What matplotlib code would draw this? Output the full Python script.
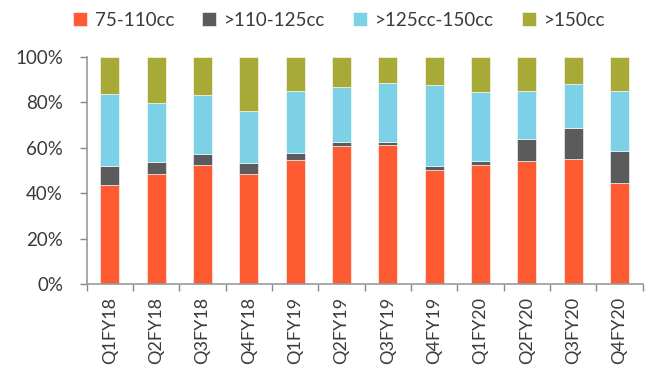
import matplotlib
matplotlib.use("Agg")
import matplotlib.pyplot as plt
from matplotlib.ticker import FuncFormatter
import numpy as np

categories = ["Q1FY18", "Q2FY18", "Q3FY18", "Q4FY18", "Q1FY19", "Q2FY19",
              "Q3FY19", "Q4FY19", "Q1FY20", "Q2FY20", "Q3FY20", "Q4FY20"]
s_75_110 = [43.6, 48.4, 52.4, 48.4, 54.5, 60.9, 61.1, 50.4, 52.4, 54.0, 55.2, 44.5]
s_110_125 = [8.4, 5.3, 5.0, 4.8, 3.1, 1.8, 1.3, 1.7, 1.9, 9.7, 13.7, 13.9]
s_125_150 = [31.7, 26.0, 25.7, 23.0, 27.4, 24.1, 26.1, 35.7, 30.4, 21.3, 19.4, 26.5]
s_150 = [16.3, 20.3, 16.9, 23.8, 15.0, 13.2, 11.5, 12.2, 15.3, 15.0, 11.7, 15.1]

series = [("75-110cc", s_75_110, "#FF5B33"),
          (">110-125cc", s_110_125, "#5B5B5D"),
          (">125cc-150cc", s_125_150, "#7DD1E6"),
          (">150cc", s_150, "#A8AA38")]

plt.rcParams['font.family'] = ['Lato', 'DejaVu Sans']
TXT = "#3a3a3a"

fig = plt.figure(figsize=(6.54, 3.79), dpi=100)
ax = fig.add_axes([86.7/654, 1 - 284/379, 556/654, 227/379])

x = np.arange(len(categories))
bottom = np.zeros(len(categories))
handles = []
for name, vals, color in series:
    vals = np.array(vals) / 100.0
    b = ax.bar(x, vals, width=0.41, bottom=bottom, color=color, label=name,
               edgecolor="white", linewidth=0.4)
    bottom += vals
    handles.append(b)

ax.set_xlim(-0.5, len(categories) - 0.5)
ax.set_ylim(0, 1)
ax.set_yticks(np.linspace(0, 1, 6))
ax.yaxis.set_major_formatter(FuncFormatter(lambda v, p: f"{int(round(v*100))}%"))
ax.set_xticks(x)
ax.set_xticklabels(categories, rotation=90, fontsize=13, color=TXT)
ax.set_xticks(np.arange(-0.5, len(categories), 1), minor=True)
ax.tick_params(axis="x", which="major", length=0, pad=9)
ax.tick_params(axis="x", which="minor", length=5, color="#888888", width=1)
ax.tick_params(axis="y", length=5, color="#888888", width=1, labelsize=13.5, labelcolor=TXT, pad=12)

for side in ["top", "right"]:
    ax.spines[side].set_visible(False)
for side in ["left", "bottom"]:
    ax.spines[side].set_color("#999999")
    ax.spines[side].set_linewidth(1.2)

leg = fig.legend(handles=handles, loc="center", bbox_to_anchor=(339/654, 1 - 20/379),
                 ncol=4, frameon=False, handlelength=0.75, handleheight=0.75,
                 handletextpad=0.4, columnspacing=1.5, prop={"size": 13.5})
for t in leg.get_texts():
    t.set_color(TXT)

fig.savefig("out.png", dpi=100)
